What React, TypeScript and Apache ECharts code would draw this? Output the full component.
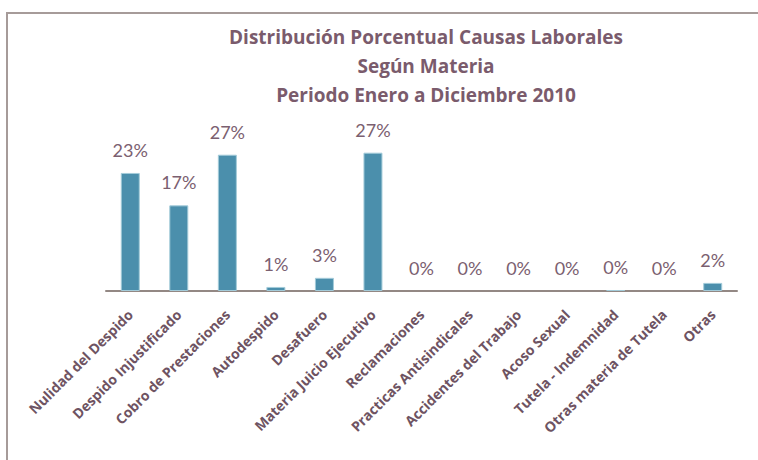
import React, { useEffect, useRef } from "react";
import * as echarts from "echarts";

const categories = [
  "Nulidad del Despido",
  "Despido Injustificado",
  "Cobro de Prestaciones",
  "Autodespido",
  "Desafuero",
  "Materia Juicio Ejecutivo",
  "Reclamaciones",
  "Practicas Antisindicales",
  "Accidentes del Trabajo",
  "Acoso Sexual",
  "Tutela - Indemnidad",
  "Otras materia de Tutela",
  "Otras",
];
const values = [23.3, 16.9, 26.9, 0.8, 2.6, 27.3, 0, 0, 0, 0, 0.2, 0, 1.6];
const titleLines = [
  "Distribución Porcentual Causas Laborales",
  "Según Materia",
  "Periodo Enero a Diciembre 2010",
];

export default function App() {
  const ref = useRef<HTMLDivElement>(null);
  useEffect(() => {
    if (!ref.current) return;
    const chart = echarts.init(ref.current, null, { renderer: "svg" });
    chart.setOption({
      animation: false,
      backgroundColor: "#ffffff",
      title: {
        text: titleLines.join("\n"),
        left: 421,
        top: 17,
        textAlign: "center",
        textStyle: {
          fontFamily: "Open Sans",
          fontWeight: "bold",
          fontSize: 19,
          lineHeight: 29,
          color: "#7a5b6c",
        },
      },
      graphic: [
        {
          type: "rect",
          shape: { x: 7, y: 13, width: 800, height: 500 },
          style: { fill: "none", stroke: "#a69b99", lineWidth: 2 },
          silent: true,
        },
      ],
      grid: { left: 106, right: 21, top: 139, bottom: 169 },
      xAxis: {
        type: "category",
        data: categories,
        axisLine: { show: true, lineStyle: { color: "#938884", width: 2 } },
        axisTick: { show: false },
        axisLabel: {
          interval: 0,
          rotate: 45,
          margin: 21,
          fontFamily: "Open Sans",
          fontWeight: "bold",
          fontSize: 14,
          color: "#6e5362",
        },
      },
      yAxis: {
        type: "value",
        min: 0,
        max: 30,
        show: false,
        splitLine: { show: false },
      },
      series: [
        {
          type: "bar",
          data: values.map((v) => ({
            value: v,
            itemStyle: { borderWidth: v > 0 ? 1 : 0 },
          })),
          barWidth: 19,
          itemStyle: { color: "#4b8fac", borderColor: "#a3cbd9", borderWidth: 1 },
          label: {
            show: true,
            position: "top",
            distance: 14,
            formatter: (p: any) => Math.round(p.value) + "%",
            fontFamily: "Lato",
            fontSize: 18,
            color: "#7b6070",
          },
        },
      ],
    });
    return () => chart.dispose();
  }, []);
  return (
    <div
      ref={ref}
      style={{ position: "absolute", left: 0, top: 0, width: 758, height: 460 }}
    />
  );
}
